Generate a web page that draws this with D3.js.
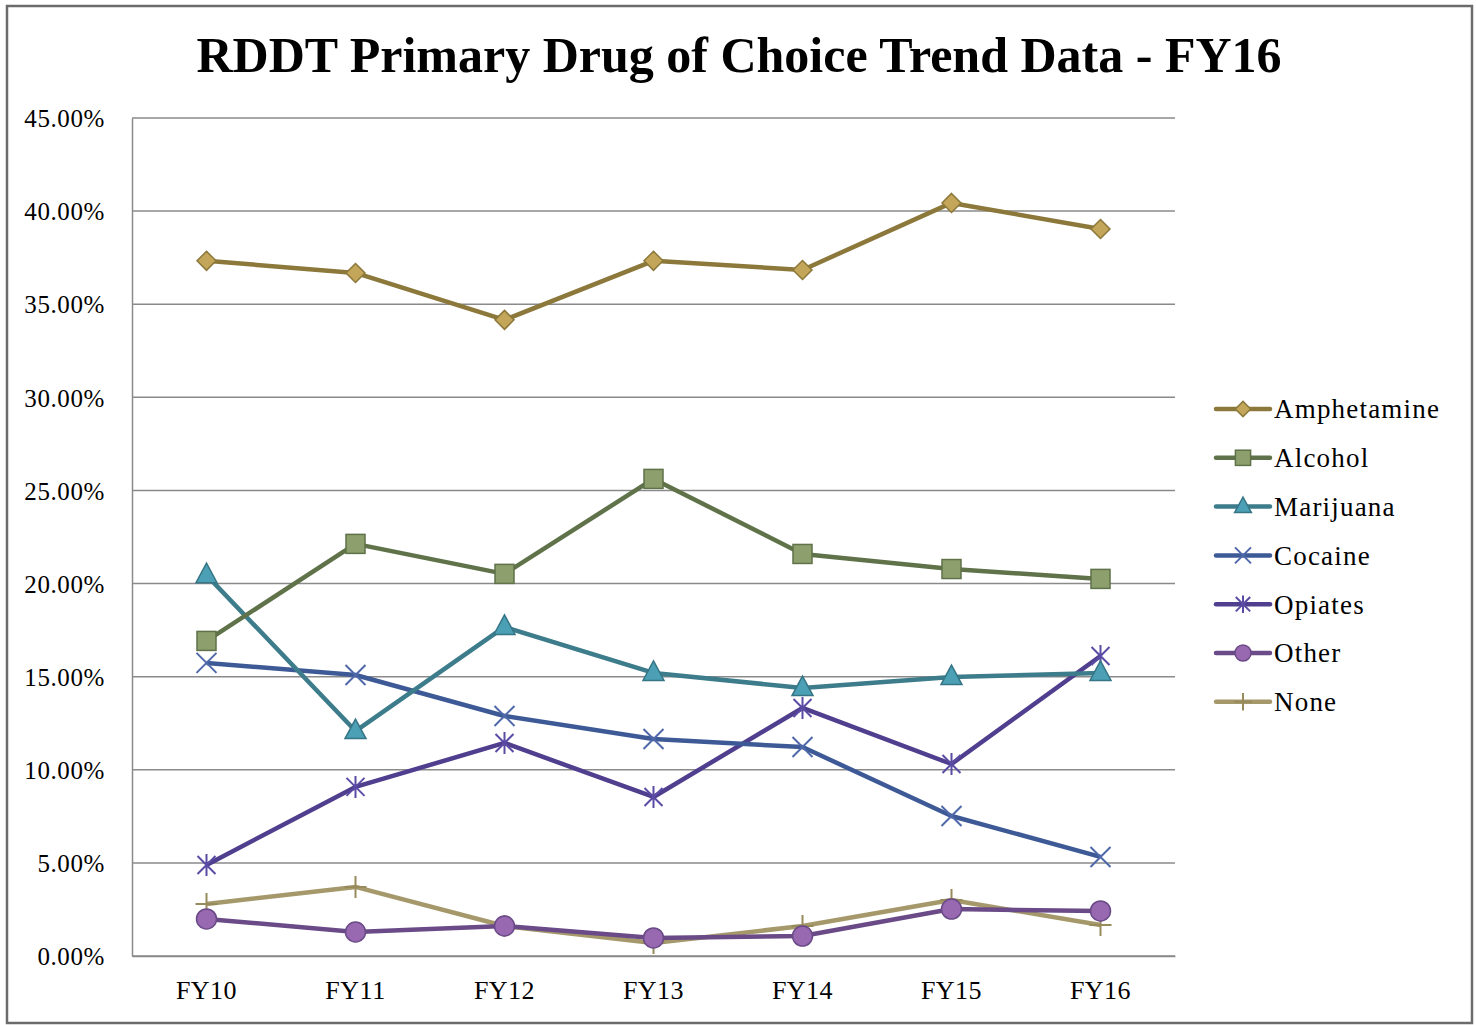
<!DOCTYPE html>
<html>
<head>
<meta charset="utf-8">
<script src="https://cdn.jsdelivr.net/npm/d3@7"></script>
<style>
  html, body { margin: 0; padding: 0; background: #fff; }
  svg { display: block; }
  text { font-family: "Palatino Linotype", "Book Antiqua", Palatino, "Liberation Serif", "DejaVu Serif", serif; fill: #000; }
</style>
</head>
<body>
<svg id="chart" width="1476" height="1025"></svg>
<script>
// Fiscal years on the category axis
const years = ["FY10", "FY11", "FY12", "FY13", "FY14", "FY15", "FY16"];

// Share of admissions by primary drug of choice (%)
const amphetamine = [37.33, 36.68, 34.16, 37.33, 36.84, 40.44, 39.04];
const alcohol     = [16.92, 22.13, 20.52, 25.62, 21.59, 20.78, 20.25];
const marijuana   = [20.45, 12.08, 17.67, 15.20, 14.39, 14.98, 15.20];
const cocaine     = [15.74, 15.09, 12.89, 11.65, 11.22, 7.52, 5.32];
const opiates     = [4.89, 9.08, 11.44, 8.54, 13.32, 10.31, 16.11];
const other       = [1.99, 1.29, 1.61, 0.97, 1.07, 2.52, 2.42];
const none        = [2.79, 3.71, 1.61, 0.70, 1.61, 3.01, 1.66];

const yTicks = [0, 5, 10, 15, 20, 25, 30, 35, 40, 45];

const series = [
  { name: "Amphetamine", values: amphetamine, line: "#8b783a", fill: "#c3a659", stroke: "#8b783a", marker: "diamond" },
  { name: "Alcohol",     values: alcohol,     line: "#5f7249", fill: "#8c9f6c", stroke: "#5f7249", marker: "square" },
  { name: "Marijuana",   values: marijuana,   line: "#3c7c8b", fill: "#4ba0b5", stroke: "#367586", marker: "triangle" },
  { name: "Cocaine",     values: cocaine,     line: "#3d5a97", fill: "none",    stroke: "#4e68a9", marker: "x" },
  { name: "Opiates",     values: opiates,     line: "#503e8e", fill: "none",    stroke: "#5a4ca5", marker: "star" },
  { name: "Other",       values: other,       line: "#6a4a87", fill: "#9868b0", stroke: "#6a4a87", marker: "circle" },
  { name: "None",        values: none,        line: "#a5996c", fill: "none",    stroke: "#978b5c", marker: "plus" }
];

const svg = d3.select("#chart");

// outer frame
svg.append("rect")
  .attr("x", 7).attr("y", 6).attr("width", 1465).attr("height", 1017)
  .attr("fill", "none").attr("stroke", "#6b6b6b").attr("stroke-width", 2.5);

// title
svg.append("text")
  .attr("x", 739).attr("y", 72)
  .attr("text-anchor", "middle")
  .attr("font-size", 50).attr("font-weight", "bold")
  .text("RDDT Primary Drug of Choice Trend Data - FY16");

const plot = { left: 132, right: 1175, top: 118, bottom: 956 };

const x = d3.scaleBand().domain(years).range([plot.left, plot.right]);
const y = d3.scaleLinear().domain([0, 45]).range([plot.bottom, plot.top]);
const cx = d => x(d) + x.bandwidth() / 2;

// horizontal gridlines
svg.append("g")
  .selectAll("line")
  .data(yTicks)
  .join("line")
  .attr("x1", plot.left).attr("x2", plot.right)
  .attr("y1", d => y(d)).attr("y2", d => y(d))
  .attr("stroke", "#8a8a8a").attr("stroke-width", 1.5);

// y axis
const yAxis = svg.append("g")
  .attr("transform", `translate(${plot.left},0)`)
  .call(d3.axisLeft(y).tickValues(yTicks).tickSize(0).tickPadding(27)
    .tickFormat(d => d.toFixed(2) + "%"));
yAxis.attr("font-family", null);
yAxis.select(".domain").attr("stroke", "#8a8a8a").attr("stroke-width", 1.5);
yAxis.selectAll("text").attr("font-size", 25).attr("letter-spacing", 0.6).attr("dy", "0.35em");

// x axis
const xAxis = svg.append("g")
  .attr("transform", `translate(0,${plot.bottom})`)
  .call(d3.axisBottom(x).tickSize(0).tickPadding(25));
xAxis.attr("font-family", null);
xAxis.select(".domain").attr("stroke", "#8a8a8a").attr("stroke-width", 1.5);
xAxis.selectAll("text").attr("font-size", 26).attr("letter-spacing", 0.5).attr("dy", "0.71em");

// marker drawing
function drawMarker(g, s, px, py, scale) {
  const k = scale || 1;
  switch (s.marker) {
    case "diamond":
      g.append("path")
        .attr("d", `M${px},${py - 9.5 * k}L${px + 9.5 * k},${py}L${px},${py + 9.5 * k}L${px - 9.5 * k},${py}Z`)
        .attr("fill", s.fill).attr("stroke", s.stroke).attr("stroke-width", 1.5);
      break;
    case "square":
      g.append("rect")
        .attr("x", px - 9.5 * k).attr("y", py - 9.5 * k).attr("width", 19 * k).attr("height", 19 * k)
        .attr("fill", s.fill).attr("stroke", s.stroke).attr("stroke-width", 1.5);
      break;
    case "triangle":
      g.append("path")
        .attr("d", `M${px},${py - 12 * k}L${px + 10.5 * k},${py + 7.5 * k}L${px - 10.5 * k},${py + 7.5 * k}Z`)
        .attr("fill", s.fill).attr("stroke", s.stroke).attr("stroke-width", 1.5);
      break;
    case "x":
      g.append("path")
        .attr("d", `M${px - 10 * k},${py - 10 * k}L${px + 10 * k},${py + 10 * k}M${px - 10 * k},${py + 10 * k}L${px + 10 * k},${py - 10 * k}`)
        .attr("stroke", s.stroke).attr("stroke-width", 2).attr("fill", "none");
      break;
    case "star":
      g.append("path")
        .attr("d", `M${px - 9 * k},${py - 9 * k}L${px + 9 * k},${py + 9 * k}M${px - 9 * k},${py + 9 * k}L${px + 9 * k},${py - 9 * k}M${px},${py - 11 * k}L${px},${py + 11 * k}`)
        .attr("stroke", s.stroke).attr("stroke-width", 2).attr("fill", "none");
      break;
    case "circle":
      g.append("circle")
        .attr("cx", px).attr("cy", py).attr("r", 10 * k)
        .attr("fill", s.fill).attr("stroke", s.stroke).attr("stroke-width", 1.5);
      break;
    case "plus":
      g.append("path")
        .attr("d", `M${px - 11 * k},${py}L${px + 11 * k},${py}M${px},${py - 11 * k}L${px},${py + 11 * k}`)
        .attr("stroke", s.stroke).attr("stroke-width", 2).attr("fill", "none");
      break;
  }
}

const line = d3.line().x(d => cx(d.year)).y(d => y(d.value));

// series, drawn bottom-up so the first series sits on top
series.slice().reverse().forEach(s => {
  const pts = years.map((yr, i) => ({ year: yr, value: s.values[i] }));
  const g = svg.append("g");
  g.append("path")
    .datum(pts)
    .attr("d", line)
    .attr("fill", "none")
    .attr("stroke", s.line)
    .attr("stroke-width", 4.5)
    .attr("stroke-linejoin", "round");
  pts.forEach(p => drawMarker(g, s, cx(p.year), y(p.value)));
});

// legend
const legend = svg.append("g");
series.forEach((s, i) => {
  const ly = 409 + i * 48.8;
  const g = legend.append("g");
  g.append("line")
    .attr("x1", 1216).attr("x2", 1270).attr("y1", ly).attr("y2", ly)
    .attr("stroke", s.line).attr("stroke-width", 4.5).attr("stroke-linecap", "round");
  drawMarker(g, s, 1243, ly, 0.8);
  g.append("text")
    .attr("x", 1274).attr("y", ly).attr("dy", "0.35em")
    .attr("font-size", 27).attr("letter-spacing", 1.2)
    .text(s.name);
});
</script>
</body>
</html>
